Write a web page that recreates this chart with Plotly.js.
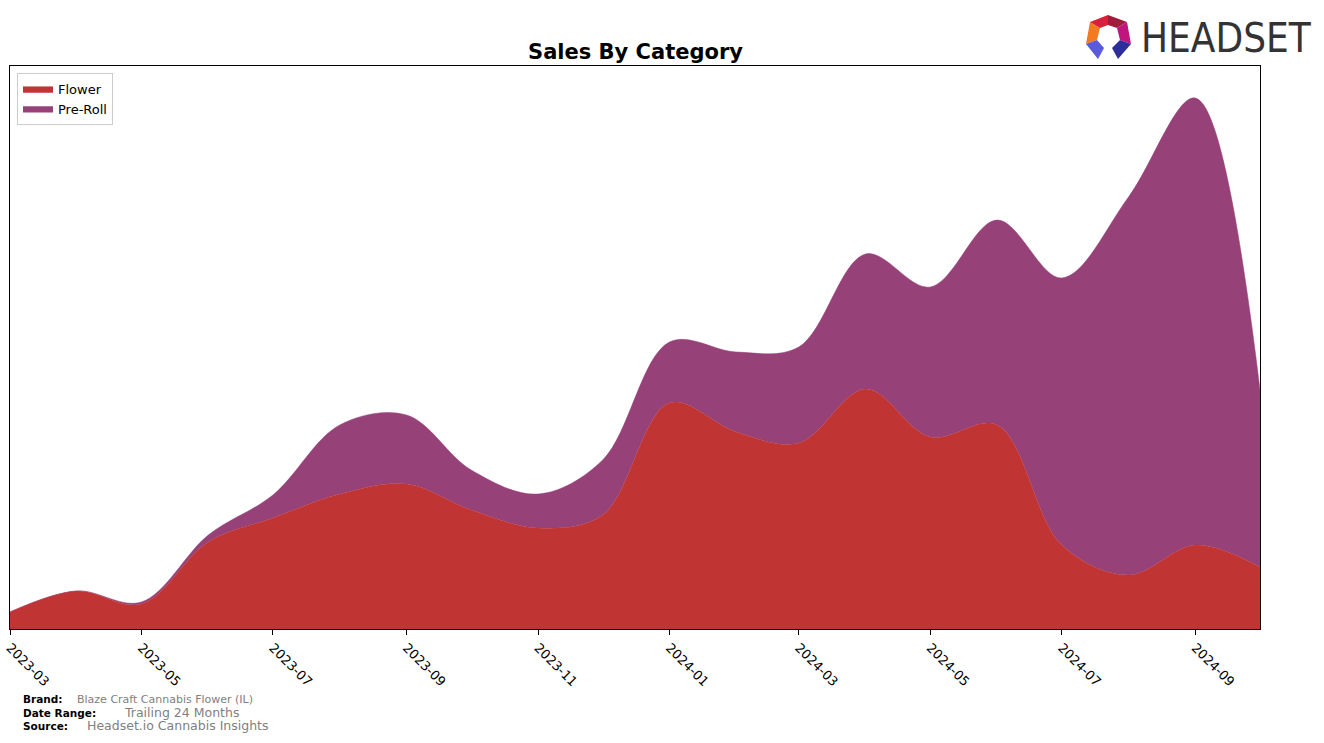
<!DOCTYPE html>
<html>
<head>
<meta charset="utf-8">
<script src="https://cdn.plot.ly/plotly-3.0.1.min.js"></script>
<style>html,body{margin:0;padding:0;background:#fff;}#chart{width:1324px;height:743px;}</style>
</head>
<body>
<div id="chart"></div>
<script>
const months = ["2023-03-01","2023-04-01","2023-05-01","2023-06-01","2023-07-01","2023-08-01","2023-09-01","2023-10-01","2023-11-01","2023-12-01","2024-01-01","2024-02-01","2024-03-01","2024-04-01","2024-05-01","2024-06-01","2024-07-01","2024-08-01","2024-09-01","2024-10-01"];
const flower = [17, 38, 25, 87, 111, 135, 145, 119, 101, 114, 226, 197, 186, 240, 192, 204, 84, 54, 84, 62];
const preRoll = [0, 0, 2, 7, 23, 69, 69, 40, 34, 55, 61, 80, 96, 135, 150, 205, 267, 378, 447, 177];
const tickVals = ["2023-03-01","2023-05-01","2023-07-01","2023-09-01","2023-11-01","2024-01-01","2024-03-01","2024-05-01","2024-07-01","2024-09-01"];
const tickText = ["2023-03","2023-05","2023-07","2023-09","2023-11","2024-01","2024-03","2024-05","2024-07","2024-09"];

const L = 10, R = 1260, T = 66, B = 629;
const px = x => (x - L) / (R - L);
const py = y => (B - y) / (B - T);
function poly(pts, color) {
  let d = pts.map((p, i) => (i ? 'L' : 'M') + px(p[0]).toFixed(5) + ',' + py(p[1]).toFixed(5)).join(' ') + ' Z';
  return {type: 'path', xref: 'paper', yref: 'paper', path: d, fillcolor: color, line: {width: 0}, layer: 'above'};
}

const traces = [
  {x: months, y: flower, name: 'Flower', type: 'scatter', mode: 'lines', stackgroup: 'one',
   line: {shape: 'spline', smoothing: 1, width: 0.5, color: '#c13434'}, fillcolor: '#c13434'},
  {x: months, y: preRoll, name: 'Pre-Roll', type: 'scatter', mode: 'lines', stackgroup: 'one',
   line: {shape: 'spline', smoothing: 1, width: 0.5, color: '#964178'}, fillcolor: '#964178'}
];

const layout = {
  width: 1324, height: 743,
  margin: {l: L, r: 1324 - R, t: T, b: 743 - B, pad: 0},
  paper_bgcolor: '#fff', plot_bgcolor: '#fff',
  title: {text: '<b>Sales By Category</b>', x: 0.48, xanchor: 'center', y: 0.931, yanchor: 'middle',
          font: {family: 'DejaVu Sans', size: 21, color: '#000'}},
  showlegend: true,
  legend: {x: 0.0056, y: 0.988, xanchor: 'left', yanchor: 'top', bgcolor: 'rgba(255,255,255,0.8)',
           bordercolor: '#ccc', borderwidth: 1, font: {family: 'DejaVu Sans', size: 13, color: '#000'},
           traceorder: 'normal', itemwidth: 30, tracegroupgap: 2},
  xaxis: {type: 'date', range: ['2023-03-01', '2024-10-01'], tickvals: tickVals, ticktext: tickText,
          tickangle: 45, ticks: 'outside', ticklen: 5, tickcolor: '#000', showgrid: false, zeroline: false,
          showline: true, linecolor: '#000', linewidth: 1, mirror: true,
          tickfont: {family: 'DejaVu Sans', size: 13, color: '#000'}},
  yaxis: {range: [0, B - T], showticklabels: false, ticks: '', showgrid: false, zeroline: false,
          showline: true, linecolor: '#000', linewidth: 1, mirror: true},
  shapes: [
    poly([[1090,22],[1100,28],[1097,40],[1086,44]], '#f47a20'),
    poly([[1090,22],[1108,15],[1108,25],[1100,28]], '#d8203a'),
    poly([[1108,15],[1127,22],[1117,28],[1108,25]], '#a01c3c'),
    poly([[1127,22],[1131,44],[1120,40],[1117,28]], '#c0157e'),
    poly([[1086,44],[1097,40],[1104,48],[1098,59]], '#5a5adc'),
    poly([[1131,44],[1120,40],[1112,48],[1118,59]], '#2e2e9a')
  ],
  annotations: [
    {text: 'HEADSET', xref: 'paper', yref: 'paper', x: px(1139), y: py(38), xanchor: 'left', yanchor: 'middle',
     showarrow: false, font: {family: 'DejaVu Sans Condensed, Liberation Sans, sans-serif', size: 40, color: '#333'}},
    {text: '<b>Brand:</b>', xref: 'paper', yref: 'paper', x: px(21), y: py(699), xanchor: 'left', yanchor: 'middle',
     showarrow: false, font: {family: 'DejaVu Sans', size: 10.5, color: '#000'}},
    {text: 'Blaze Craft Cannabis Flower (IL)', xref: 'paper', yref: 'paper', x: px(75), y: py(699), xanchor: 'left', yanchor: 'middle',
     showarrow: false, font: {family: 'DejaVu Sans', size: 11, color: '#808080'}},
    {text: '<b>Date Range:</b>', xref: 'paper', yref: 'paper', x: px(21), y: py(713), xanchor: 'left', yanchor: 'middle',
     showarrow: false, font: {family: 'DejaVu Sans', size: 10.5, color: '#000'}},
    {text: 'Trailing 24 Months', xref: 'paper', yref: 'paper', x: px(122), y: py(712), xanchor: 'left', yanchor: 'middle',
     showarrow: false, font: {family: 'DejaVu Sans', size: 12.5, color: '#808080'}},
    {text: '<b>Source:</b>', xref: 'paper', yref: 'paper', x: px(21), y: py(726), xanchor: 'left', yanchor: 'middle',
     showarrow: false, font: {family: 'DejaVu Sans', size: 10.5, color: '#000'}},
    {text: 'Headset.io Cannabis Insights', xref: 'paper', yref: 'paper', x: px(85), y: py(725), xanchor: 'left', yanchor: 'middle',
     showarrow: false, font: {family: 'DejaVu Sans', size: 12.5, color: '#808080'}}
  ]
};

Plotly.newPlot('chart', traces, layout, {displayModeBar: false, staticPlot: true});
</script>
</body>
</html>
